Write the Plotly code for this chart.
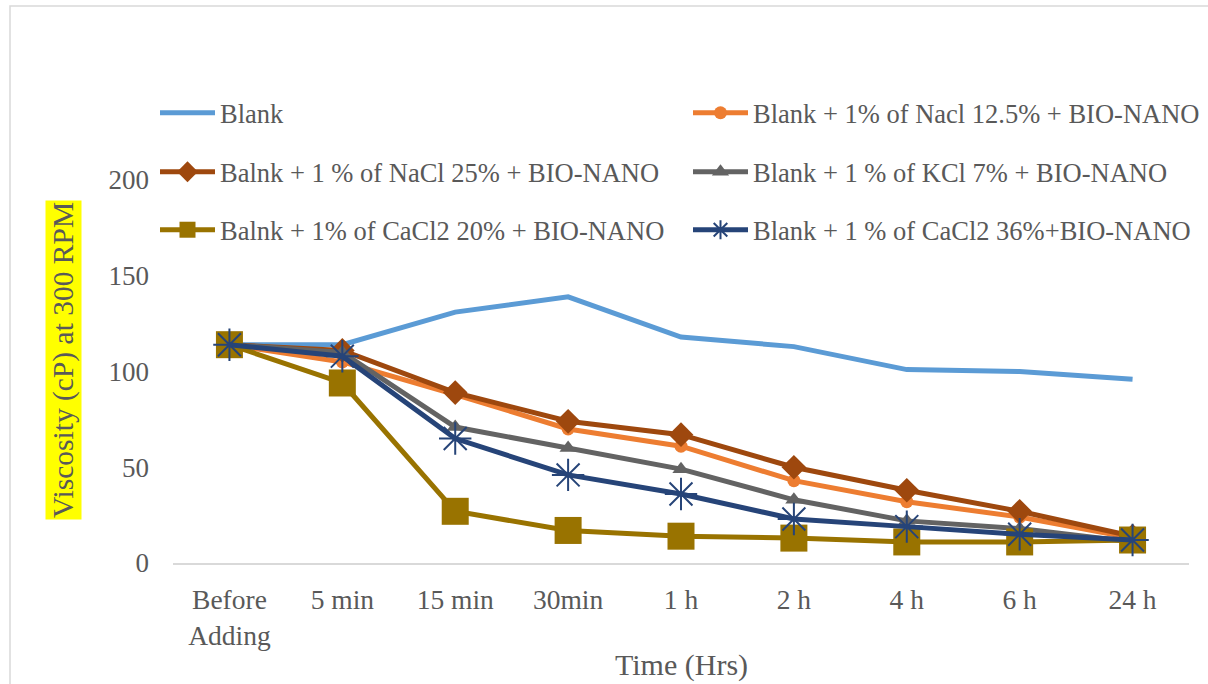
import plotly.graph_objects as go

categories = ["Before<br>Adding", "5 min", "15 min", "30min", "1 h", "2 h", "4 h", "6 h", "24 h"]

blank = [114, 114, 131, 139, 118, 113, 101, 100, 96]
nacl_125 = [114, 105, 88, 70, 61, 43, 32, 24, 13]
nacl_25 = [114, 111, 89, 74, 67, 50, 38, 27, 14]
kcl_7 = [114, 110, 71, 60, 49, 33, 22, 18, 11]
cacl2_20 = [114, 94, 27, 17, 14, 13, 11, 11, 12]
cacl2_36 = [114, 108, 65, 46, 36, 23, 19, 15, 12]

names = [
    "Blank",
    "Blank + 1% of Nacl 12.5% + BIO-NANO",
    "Balnk + 1 % of NaCl 25% + BIO-NANO",
    "Blank + 1 % of KCl 7% + BIO-NANO",
    "Balnk + 1% of CaCl2 20% + BIO-NANO",
    "Blank + 1 % of CaCl2 36%+BIO-NANO",
]
y_ticks = [0, 50, 100, 150, 200]

FONT = "Liberation Serif"
TXT = "#595959"

W, H = 1208, 684
L, R = 173, 1189
T, B = 180, 563
pw, ph = R - L, B - T


def px_x(x):
    return (x - L) / pw


def px_y(y):
    return (B - y) / ph


fig = go.Figure()

# (values, name, colour, symbol, size, marker line width, legend id, legend x px, legend y px)
series = [
    (blank, names[0], "#5B9BD5", None, 0, None, "legend", 155, 113),
    (nacl_125, names[1], "#ED7D31", "circle", 13, None, "legend2", 688, 113),
    (nacl_25, names[2], "#9E480E", "diamond", 19, None, "legend3", 155, 172),
    (kcl_7, names[3], "#636363", "triangle-up", 15, None, "legend4", 688, 172),
    (cacl2_20, names[4], "#997300", "square", 27, None, "legend5", 155, 230),
    (cacl2_36, names[5], "#264478", "asterisk-open", 27, 2, "legend6", 688, 230),
]

leg_common = dict(orientation="h", xanchor="left", yanchor="middle",
                  font=dict(family=FONT, size=26.5, color=TXT),
                  itemwidth=55, bgcolor="rgba(0,0,0,0)")
legends = {}

for vals, name, color, sym, size, mlw, leg, lx, ly in series:
    kw = dict(x=categories, y=vals, name=name, legend=leg,
              line=dict(color=color, width=5))
    if sym is None:
        kw["mode"] = "lines"
    else:
        kw["mode"] = "lines+markers"
        m = dict(symbol=sym, size=size, color=color)
        if mlw:
            m["line"] = dict(color=color, width=mlw)
        else:
            m["line"] = dict(width=0)
        kw["marker"] = m
    fig.add_trace(go.Scatter(**kw))
    legends[leg] = dict(x=px_x(lx), y=px_y(ly), **leg_common)

fig.update_layout(
    width=W, height=H,
    margin=dict(l=L, r=W - R, t=T, b=H - B, pad=0, autoexpand=False),
    paper_bgcolor="white", plot_bgcolor="white",
    font=dict(family=FONT, size=26, color=TXT),
    showlegend=True,
    xaxis=dict(
        type="category", range=[-0.5, 8.5],
        showline=True, linecolor="#D9D9D9", linewidth=1.5,
        showgrid=False, ticks="", zeroline=False,
        tickfont=dict(family=FONT, size=27.5, color=TXT),
        ticklabelstandoff=11,
    ),
    yaxis=dict(
        range=[0, 200], tickvals=y_ticks,
        showline=False, showgrid=False, zeroline=False, ticks="",
        tickfont=dict(family=FONT, size=27, color=TXT),
        ticklabelstandoff=23,
    ),
    shapes=[
        dict(type="rect", xref="paper", yref="paper",
             x0=px_x(10), x1=px_x(1240), y0=px_y(720), y1=px_y(6),
             line=dict(color="#D9D9D9", width=1.5), fillcolor="rgba(0,0,0,0)",
             layer="below"),
    ],
    annotations=[
        dict(text="Viscosity (cP) at 300 RPM", xref="paper", yref="paper",
             x=px_x(63), y=px_y(360), xanchor="center", yanchor="middle",
             textangle=-90, showarrow=False, bgcolor="#FFFF00", borderpad=1,
             font=dict(family=FONT, size=29.5, color=TXT)),
        dict(text="Time (Hrs)", xref="paper", yref="paper",
             x=px_x(681), y=px_y(665), xanchor="center", yanchor="middle",
             showarrow=False, font=dict(family=FONT, size=30, color=TXT)),
    ],
    **legends,
)

fig.write_html("out.html")
